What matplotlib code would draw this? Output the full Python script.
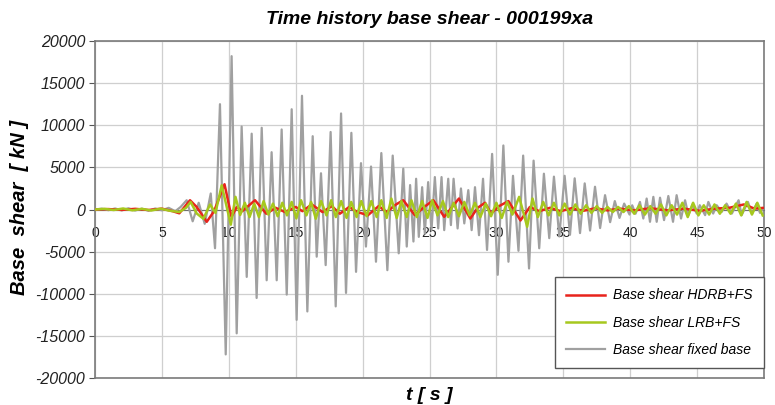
import matplotlib
matplotlib.use("Agg")
import matplotlib.pyplot as plt

plt.rcParams['font.family'] = ['Liberation Sans', 'DejaVu Sans']

title = "Time history base shear - 000199xa"
xlabel = "t [ s ]"
ylabel = "Base  shear  [ kN ]"
series_names = ["Base shear HDRB+FS", "Base shear LRB+FS", "Base shear fixed base"]
x_ticks = [0, 5, 10, 15, 20, 25, 30, 35, 40, 45, 50]
y_ticks = [-20000, -15000, -10000, -5000, 0, 5000, 10000, 15000, 20000]

# Fixed base (grey): (time of extremum [s], value [kN])
fixed_pts = [
    (0.0, 0), (0.5, 100), (1.0, -80), (1.5, 120), (2.0, -100), (2.5, 150), (3.0, -120),
    (3.5, 100), (4.0, -150), (4.5, 120), (5.0, -100), (5.5, 200), (6.0, -200), (6.4, 300),
    (6.85, 1100), (7.3, -1400), (7.75, 800), (8.2, -1700), (8.65, 1900), (8.97, -4600),
    (9.34, 12500), (9.77, -17200), (10.21, 18200), (10.59, -14700), (10.96, 9850),
    (11.34, -8000), (11.71, 9000), (12.08, -10500), (12.46, 9700), (12.83, -8400),
    (13.2, 6800), (13.58, -8400), (13.95, 9500), (14.33, -10100), (14.7, 11900),
    (15.07, -13100), (15.47, 13500), (15.87, -12100), (16.27, 8700), (16.57, -5600),
    (16.89, 4300), (17.24, -6600), (17.61, 9200), (17.99, -11500), (18.39, 11400),
    (18.76, -9900), (19.16, 9100), (19.51, -7400), (19.88, 5500), (20.25, -4400),
    (20.63, 5100), (21.0, -6200), (21.4, 6700), (21.85, -7200), (22.25, 6400),
    (22.7, -5200), (23.04, 4850), (23.3, -4400), (23.55, 2900), (23.8, -3800),
    (24.0, 3650), (24.2, -3250), (24.45, 2650), (24.65, -2850), (24.9, 3250),
    (25.15, -2450), (25.4, 3850), (25.65, -2250), (25.9, 3850), (26.1, -2450),
    (26.4, 3650), (26.6, -1850), (26.8, 3650), (27.1, -2250), (27.35, 2500),
    (27.6, -1650), (27.9, 2300), (28.15, -2450), (28.4, 2650), (28.7, -3050),
    (29.0, 3650), (29.3, -4800), (29.68, 6600), (30.1, -7750), (30.52, 7600),
    (30.9, -6200), (31.24, 4000), (31.65, -4900), (32.0, 6400), (32.44, -7000),
    (32.78, 5800), (33.2, -4600), (33.55, 4250), (33.95, -3400), (34.3, 3900),
    (34.7, -3200), (35.1, 4000), (35.5, -3000), (35.85, 3700), (36.25, -2800),
    (36.6, 3100), (37.0, -2500), (37.37, 2700), (37.75, -2200), (38.12, 1700),
    (38.5, -1500), (38.85, 1000), (39.2, -1000), (39.55, 700), (39.95, -600),
    (40.15, 500), (40.4, -500), (40.73, 900), (40.98, -1070), (41.23, 1300),
    (41.48, -1460), (41.73, 1500), (41.98, -1460), (42.23, 1400), (42.53, -1260),
    (42.85, 1600), (43.2, -1460), (43.47, 1700), (43.8, -1070), (44.1, 1100),
    (44.35, -670), (44.65, 600), (44.97, -480), (45.2, 510), (45.6, -670),
    (45.84, 900), (46.2, -480), (46.46, 510), (46.84, -280), (47.2, 700),
    (47.6, -480), (48.1, 1100), (48.33, -670), (48.8, 900), (49.1, -480),
    (49.45, 700), (49.7, -400), (50.0, 300),
]

# HDRB+FS (red)
hdrb_pts = [
    (0, 0), (1, 50), (2, -50), (3, 80), (4, -60), (5, 100), (5.8, -200), (6.3, -450),
    (7.1, 1100), (7.6, 300), (8.35, -1460), (8.9, -200), (9.68, 3000), (10.2, -870),
    (10.6, 300), (11.0, -200), (11.96, 1100), (12.8, -500), (13.5, 200), (14.2, -300),
    (15.0, 300), (15.5, -200), (16.2, 600), (17.0, -300), (17.7, 400), (18.3, -500),
    (19.0, 300), (19.6, -300), (20.4, -670), (21.2, 400), (21.8, -300), (22.5, 600),
    (23.04, 1100), (23.9, -670), (24.6, 300), (25.29, 1100), (26.1, -870), (27.2, 1300),
    (28.05, -1070), (28.6, 200), (29.15, 800), (29.6, -470), (30.2, 400), (30.9, 1000),
    (31.8, -1300), (32.5, 300), (33.2, -200), (34.0, 200), (34.8, -200), (35.6, 150),
    (36.5, -150), (37.4, 150), (38.3, -100), (39.2, 100), (40.3, -100), (41.5, 150),
    (42.8, -100), (44.0, 100), (45.2, -150), (46.3, 100), (47.4, 200), (48.5, 600),
    (49.3, 100), (50.0, 200),
]

# LRB+FS (green)
lrb_pts = [
    (0, 0), (0.7, 80), (1.4, -60), (2.1, 120), (2.8, -100), (3.5, 80), (4.2, -120),
    (4.9, 100), (5.6, -150), (6.3, -300), (6.8, 200), (7.15, 900), (7.6, -470),
    (8.1, -1100), (8.6, 600), (9.0, -400), (9.47, 2870), (10.15, -1800), (10.5, 1500),
    (10.85, -650), (11.2, 800), (11.55, -900), (11.9, 700), (12.25, -900), (12.6, 1000),
    (12.95, -600), (13.3, 700), (13.65, -800), (14.0, 800), (14.35, -700), (14.7, 900),
    (15.05, -1060), (15.4, 1100), (15.8, -700), (16.15, 900), (16.5, -1100), (16.9, 1000),
    (17.3, -700), (17.65, 1100), (18.0, -900), (18.4, 1000), (18.8, -1000), (19.15, 900),
    (19.55, -900), (19.9, 1000), (20.3, -800), (20.65, 1000), (21.05, -900), (21.4, 1100),
    (21.8, -1000), (22.15, 1300), (22.55, -1000), (22.9, 1000), (23.3, -900), (23.65, 1100),
    (24.05, -900), (24.45, 1000), (24.85, -1000), (25.2, 1100), (25.6, -700), (26.0, 1000),
    (26.4, -900), (26.8, 800), (27.2, -800), (27.6, 900), (28.0, -700), (28.4, 800),
    (28.8, -900), (29.2, 700), (29.6, -800), (30.0, 800), (30.4, -1000), (30.8, 900),
    (31.2, -600), (31.7, 1500), (32.3, -2050), (32.7, 1300), (33.1, -900), (33.5, 900),
    (33.9, -700), (34.3, 800), (34.7, -700), (35.1, 700), (35.5, -600), (35.9, 600),
    (36.3, -500), (36.7, 500), (37.1, -400), (37.5, 400), (37.9, -400), (38.3, 300),
    (38.7, -300), (39.1, 300), (39.5, -300), (39.9, 400), (40.3, -500), (40.7, 500),
    (41.1, -600), (41.5, 400), (41.9, -500), (42.3, 600), (42.7, -700), (43.1, 500),
    (43.5, -600), (43.9, 800), (44.3, -900), (44.7, 800), (45.1, -700), (45.5, 500),
    (45.9, -600), (46.3, 600), (46.7, -500), (47.1, 500), (47.5, -500), (47.9, 700),
    (48.3, -700), (48.7, 900), (49.1, -600), (49.5, 800), (49.9, -700),
]

fixed_t, fixed_v = zip(*fixed_pts)
hdrb_t, hdrb_v = zip(*hdrb_pts)
lrb_t, lrb_v = zip(*lrb_pts)

fig = plt.figure(figsize=(7.75, 4.05), dpi=100)
ax = fig.add_axes([95 / 775, 27 / 405, 669 / 775, 337 / 405])

ax.plot(fixed_t, fixed_v, color='#a0a0a0', lw=1.6, zorder=3, label=series_names[2],
        solid_joinstyle='round')
ax.plot(hdrb_t, hdrb_v, color='#e8231c', lw=1.8, zorder=4, label=series_names[0],
        solid_joinstyle='round')
ax.plot(lrb_t, lrb_v, color='#a6c81e', lw=1.8, zorder=5, label=series_names[1],
        solid_joinstyle='round')

ax.set_xlim(0, 50)
ax.set_ylim(-20000, 20000)
ax.set_xticks(x_ticks)
ax.set_yticks(y_ticks)
ax.set_xticklabels([str(v) for v in x_ticks], fontstyle='italic', fontsize=11.5)
ax.set_yticklabels([str(v) for v in y_ticks], fontstyle='italic', fontsize=11.5)
ax.grid(True, color='#cfcfcf', lw=0.9, zorder=0)
ax.set_axisbelow(True)

ax.spines['bottom'].set_position(('data', 0))
ax.spines['bottom'].set_color('#707070')
ax.spines['bottom'].set_zorder(2)
for s in ['left', 'top', 'right']:
    ax.spines[s].set_color('#7a7a7a')
    ax.spines[s].set_linewidth(1.2)
ax.tick_params(axis='x', length=0, pad=12, colors='#222222')
ax.tick_params(axis='y', length=4, direction='out', pad=3, color='#555555', labelcolor='#222222')
ax.axhline(-20000, color='#7a7a7a', lw=1.2, clip_on=False, zorder=6)

ax.set_title(title, fontsize=14, fontweight='bold', fontstyle='italic', pad=12)
fig.text(0.5 * (95 + 764) / 775, 10 / 405, xlabel, ha='center', va='center',
         fontsize=14, fontweight='bold', fontstyle='italic')
fig.text(20 / 775, 0.5 * (27 + 364) / 405 + 0.005, ylabel, ha='center', va='center', rotation=90,
         fontsize=14.5, fontweight='bold', fontstyle='italic')

handles, labels = ax.get_legend_handles_labels()
order = [1, 2, 0]
leg = ax.legend([handles[i] for i in order], [labels[i] for i in order],
                loc='lower right', bbox_to_anchor=(1.0, 0.03), borderaxespad=0,
                prop={'style': 'italic', 'size': 10}, frameon=True, fancybox=False,
                edgecolor='#555555', framealpha=1, borderpad=0.8, labelspacing=0.95,
                handlelength=2.8, handletextpad=0.6)
leg.get_frame().set_linewidth(1.0)

fig.savefig('out.png', dpi=100)
